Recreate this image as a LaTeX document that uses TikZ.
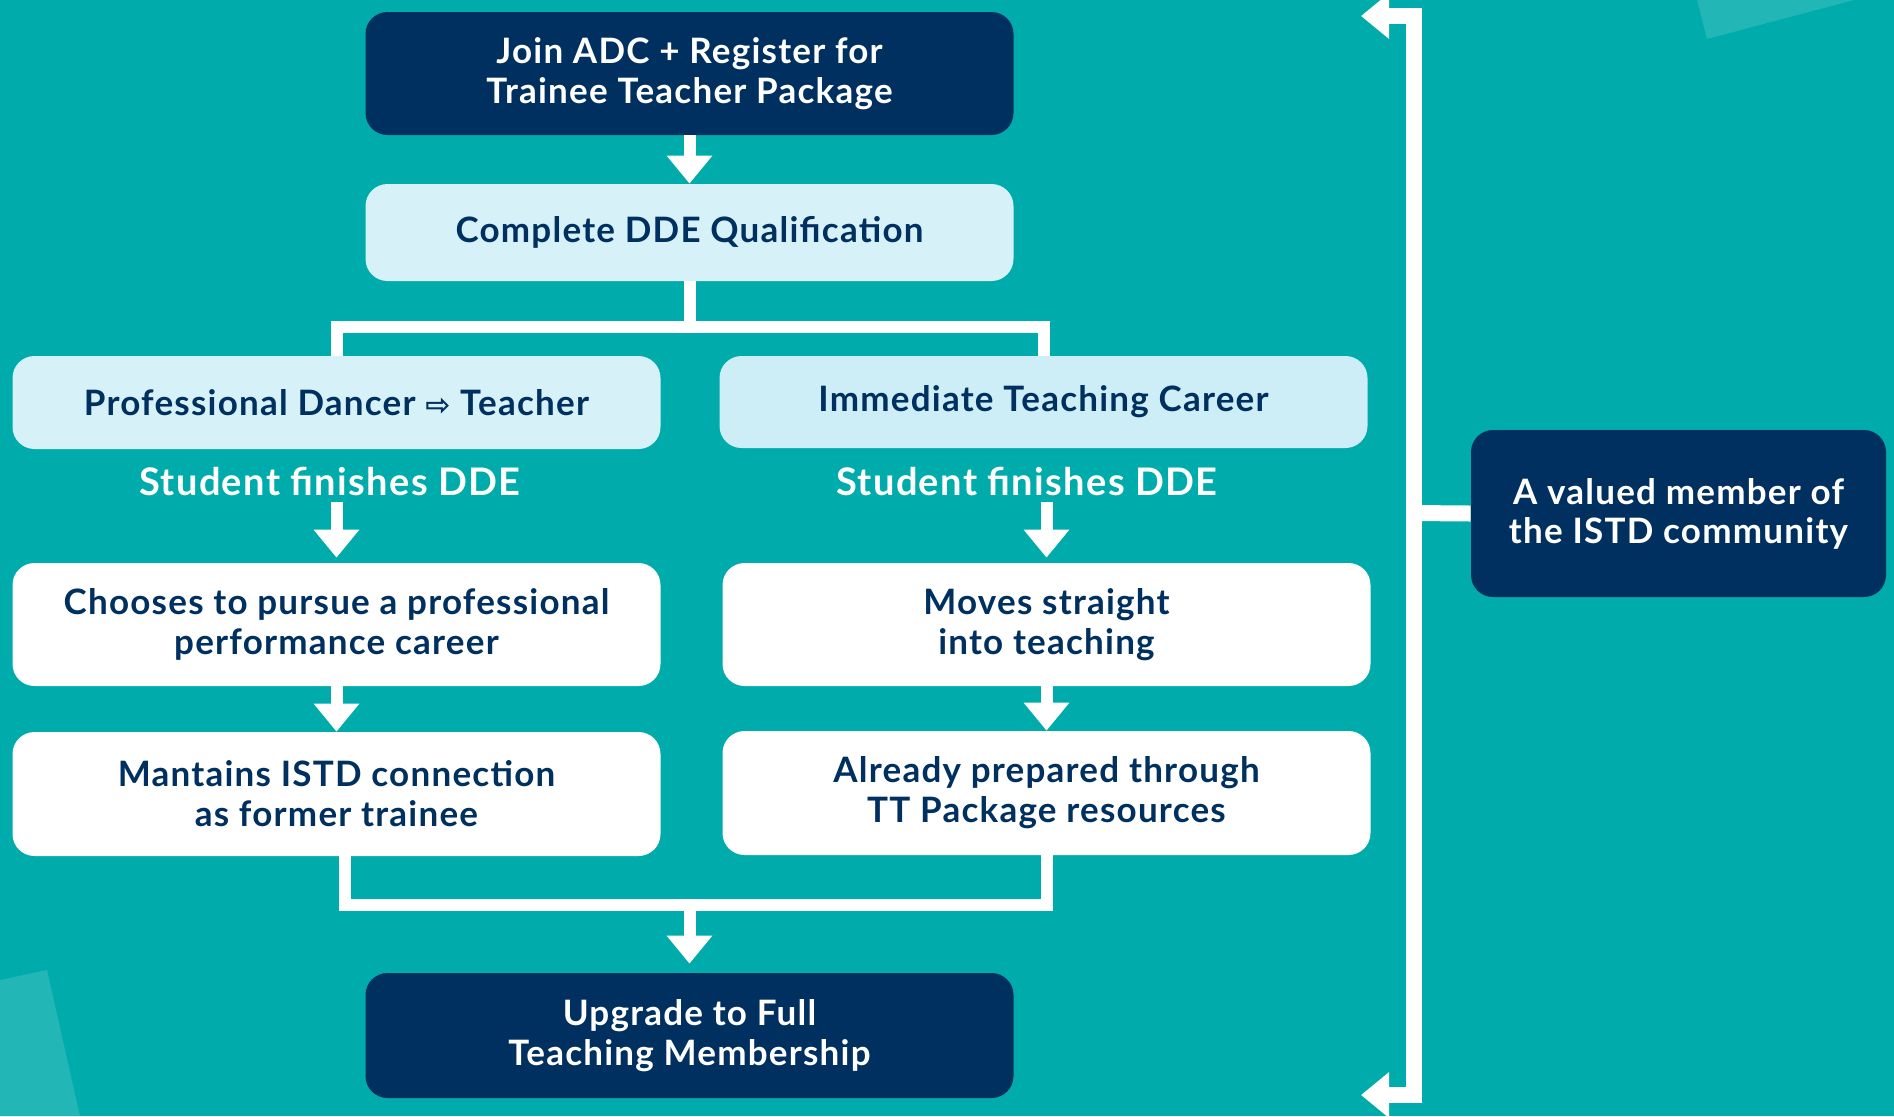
\documentclass[tikz,border=0pt]{standalone}
\usepackage{fontspec}
\setmainfont{Lato}[LetterSpace=3.5]
\newfontfamily\arrowfont{DejaVu Sans}
\usetikzlibrary{arrows.meta}
\definecolor{sea}{HTML}{00ABAB}
\definecolor{seaLight}{HTML}{22B6B6}
\definecolor{navy}{HTML}{00305F}
\definecolor{paleL}{HTML}{D7F1F9}
\definecolor{paleR}{HTML}{CDEEF6}

\begin{document}
\begin{tikzpicture}[x=0.5pt,y=-0.5pt,
	box/.style={rounded corners=11pt, minimum width=324pt, align=center, inner sep=0pt, font=\bfseries\fontsize{17.5}{20}\selectfont},
	dark/.style={box, fill=navy, text=white},
	pale/.style={box, fill=#1, text=navy},
	plain/.style={box, fill=white, text=navy},
	stage/.style={text=white, font=\bfseries\fontsize{19}{22}\selectfont},
	conn/.style={white, line width=6pt},
	arr/.style={conn, -{Triangle[length=14pt,width=22pt]}},
	brk/.style={white, line width=8pt, {Triangle[length=14pt,width=22pt]}-{Triangle[length=14pt,width=22pt]}}]

	\fill[sea] (0,0) rectangle (1894,1116);
	\fill[seaLight] (1697,0) -- (1707,39) -- (1854,0) -- cycle;
	\fill[seaLight] (0,980) -- (47,970) -- (80,1116) -- (0,1116) -- cycle;
	\useasboundingbox (0,0) rectangle (1894,1116);

	\node[dark, minimum height=61.5pt] (join) at (689.5,73.5) {Join ADC + Register for\\Trainee Teacher Package};
	\node[pale=paleL, minimum height=48.5pt] (dde) at (689.5,232.5) {Complete DDE Qualification};
	\node[pale=paleL, minimum height=46.5pt] (prof) at (336.5,402.5) {Professional Dancer {\arrowfont\fontsize{15}{15}\selectfont ⇨} Teacher};
	\node[pale=paleR, minimum height=46pt] (immed) at (1043.5,402) {Immediate Teaching Career};
	\node[stage] (studL) at (330,481) {Student finishes DDE};
	\node[stage] (studR) at (1027,481) {Student finishes DDE};
	\node[plain, minimum height=61.5pt] (choose) at (336.5,624.5) {Chooses to pursue a professional\\performance career};
	\node[plain, minimum height=61.5pt] (moves) at (1046.5,624.5) {Moves straight\\into teaching};
	\node[plain, minimum height=62pt] (maint) at (336.5,794) {Mantains ISTD connection\\as former trainee};
	\node[plain, minimum height=62pt] (ready) at (1046.5,793) {Already prepared through\\TT Package resources};
	\node[dark, minimum height=62.5pt] (upgrade) at (689.5,1035.5) {Upgrade to Full\\Teaching Membership};
	\node[dark, minimum width=207.5pt, minimum height=83.5pt, font=\bfseries\fontsize{17.5}{19.5}\selectfont] (valued) at (1678.5,513.5) {A valued member of\\the ISTD community};

	\coordinate (split) at (689.5,327);
	\coordinate (merge) at (689.5,905);
	\coordinate (spine) at (1414,513);
	\coordinate (topend) at (1361,16);
	\coordinate (botend) at (1361,1095);

	\draw[arr] (join.south) -- (dde.north);
	\draw[conn] (dde.south) -- (split);
	\draw[conn] (prof.north) |- (split) -| (immed.north);
	\draw[arr, shorten >=2.5pt] (studL.south -| choose.north) -- (choose.north);
	\draw[arr, shorten >=2.5pt] (studR.south -| moves.north) -- (moves.north);
	\draw[arr] (choose.south) -- (maint.north);
	\draw[arr] (moves.south) -- (ready.north);
	\draw[conn] ([xshift=4pt]maint.south) |- (merge) -| (ready.south);
	\draw[arr, shorten >=4.5pt] (merge) -- (upgrade.north);

	\draw[brk] (topend) -| (spine) |- (botend);
	\draw[white, line width=8pt] (spine) -- (valued.west);
\end{tikzpicture}
\end{document}
